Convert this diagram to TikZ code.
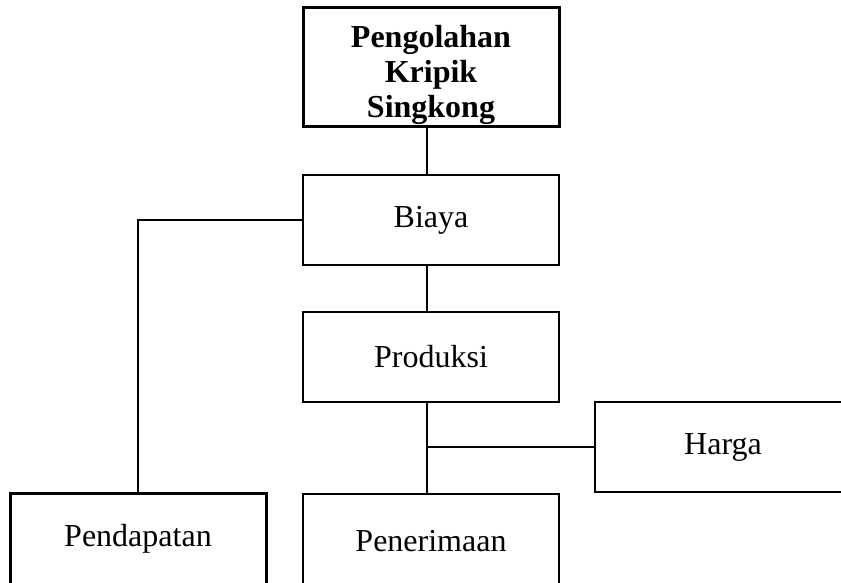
\documentclass[tikz,border=0pt]{standalone}
\usepackage{fontspec}
\setmainfont{Liberation Serif}
\usetikzlibrary{positioning}

\begin{document}
\begin{tikzpicture}[x=0.5pt, y=-0.5pt,
    kotak/.style={draw, line width=1pt, minimum width=128pt, minimum height=45pt, inner sep=0pt, font=\fontsize{16}{17.5}\selectfont},
    garis/.style={line width=1pt}]
    \useasboundingbox (0,0) rectangle (841,583);
    \clip (0,0) rectangle (841,583);

    % Top box
    \node[kotak, line width=1.5pt, minimum height=59.5pt, align=center, font=\bfseries\fontsize{16}{17.5}\selectfont] (olah) at (431,67.5) {\rule{0pt}{19pt}Pengolahan\\Kripik\\Singkong};

    % Middle column
    \node[kotak] (biaya) at (431,220) {Biaya};
    \node[kotak] (produksi) at (431,357) {Produksi};
    \node[kotak] (harga) at (723,447) {Harga};

    % Bottom row
    \node[kotak, line width=1.5pt, minimum height=46pt] (pendapatan) at (138,539) {Pendapatan};
    \node[kotak, minimum height=47pt] (penerimaan) at (431,541) {Penerimaan};

    % Lines
    \draw[garis] ([xshift=-2pt]olah.south) -- ([xshift=-2pt]biaya.north);
    \draw[garis] ([xshift=-2pt]biaya.south) -- ([xshift=-2pt]produksi.north);
    \draw[garis] ([xshift=-2pt]produksi.south) -- ([xshift=-2pt]penerimaan.north);
    \draw[garis] ([xshift=-2pt]produksi.south |- harga.west) -- (harga.west);
    \draw[garis] (biaya.west) -| (pendapatan.north);
\end{tikzpicture}
\end{document}
